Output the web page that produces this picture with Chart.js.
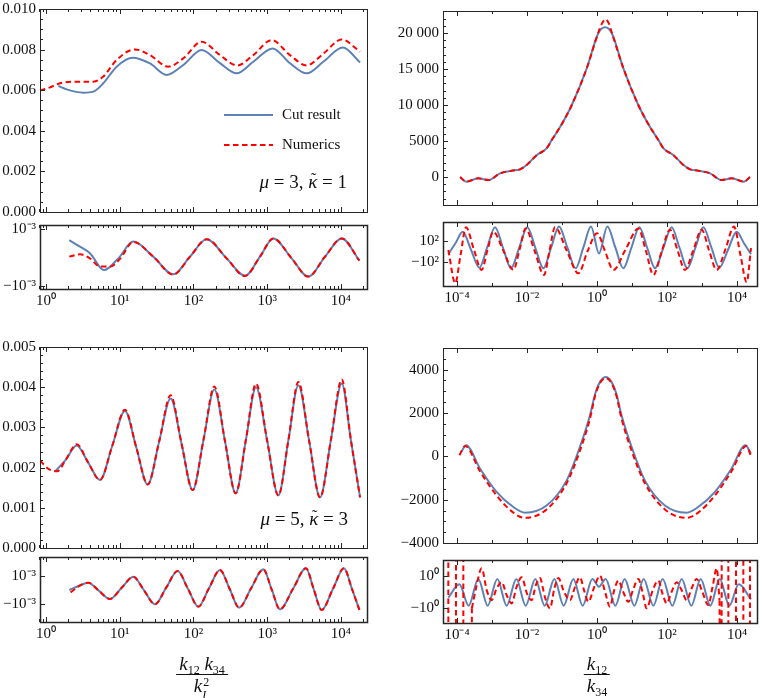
<!DOCTYPE html>
<html>
<head>
<meta charset="utf-8">
<script src="https://cdn.jsdelivr.net/npm/chart.js@4.4.1/dist/chart.umd.min.js"></script>
<style>
  body { margin: 0; background: #fff; width: 763px; height: 698px; position: relative; overflow: hidden; }
  canvas { position: absolute; }
  .frac { position: absolute; transform: translateX(-50%); font-family: 'Liberation Serif', serif; font-size: 19px;
          line-height: 1; color: #111; text-align: center; white-space: nowrap; }
  .frac .num { padding: 0 3px 1px; }
  .frac .bar { border-top: 1.3px solid #111; }
  .frac .den { padding-top: 1px; }
  .frac i { font-style: italic; }
  .frac .sb { font-size: 12px; position: relative; top: 4px; }
  .frac .ss { display: inline-block; position: relative; width: 8px; height: 10px; font-size: 12px; }
  .frac .ss .up { position: absolute; left: 1px; top: -6px; }
  .frac .ss .dn { position: absolute; left: 0; top: 7px; font-style: italic; }
</style>
</head>
<body>
<canvas id="tlMain"></canvas>
<canvas id="tlRes"></canvas>
<canvas id="blMain"></canvas>
<canvas id="blRes"></canvas>
<canvas id="trMain"></canvas>
<canvas id="trRes"></canvas>
<canvas id="brMain"></canvas>
<canvas id="brRes"></canvas>
<div class="frac" style="left:202px; top:654px">
  <div class="num"><i>k</i><span class="sb">12</span> <i>k</i><span class="sb">34</span></div>
  <div class="bar"></div>
  <div class="den"><i>k</i><span class="ss"><span class="up">2</span><span class="dn">I</span></span></div>
</div>
<div class="frac" style="left:597px; top:654px">
  <div class="num"><i>k</i><span class="sb">12</span></div>
  <div class="bar"></div>
  <div class="den"><i>k</i><span class="sb">34</span></div>
</div>
<script>
// ---- x axes: tick positions and labels ----
const leftTickK = [1, 10, 100, 1000, 10000];
const leftTickLabels = ['10⁰', '10¹', '10²', '10³', '10⁴'];
const rightTickK = [1e-4, 1e-2, 1, 1e2, 1e4];
const rightTickLabels = ['10⁻⁴', '10⁻²', '10⁰', '10²', '10⁴'];

// ---- y axes: tick values and labels ----
const mu3Ticks = [0, 0.002, 0.004, 0.006, 0.008, 0.010];
const mu3TickLabels = ['0.000', '0.002', '0.004', '0.006', '0.008', '0.010'];
const mu5Ticks = [0, 0.001, 0.002, 0.003, 0.004, 0.005];
const mu5TickLabels = ['0.000', '0.001', '0.002', '0.003', '0.004', '0.005'];
const ratio3Ticks = [0, 5000, 10000, 15000, 20000];
const ratio3TickLabels = ['0', '5000', '10 000', '15 000', '20 000'];
const ratio5Ticks = [-4000, -2000, 0, 2000, 4000];
const ratio5TickLabels = ['−4000', '−2000', '0', '2000', '4000'];
// residual panels use a signed log axis; the values below are in units of the labelled tick
const resTicks = [-1, 1];
const mu3ResLabels = ['−10⁻³', '10⁻³'];
const mu5ResLabels = ['−10⁻³', '10⁻³'];
const ratio3ResLabels = ['−10²', '10²'];
const ratio5ResLabels = ['−10⁰', '10⁰'];

// ---- top-left: mu = 3, vs k12 k34 / kI^2 (x given as log10) ----
const mu3CutLogK = [0.167, 0.280, 0.506, 0.642, 0.777, 0.958, 1.175, 1.410, 1.636, 1.862, 2.111, 2.359, 2.585, 2.811, 3.073, 3.308, 3.535, 3.761, 4.024, 4.259];
const mu3CutVal = [0.00621, 0.00604, 0.00588, 0.00593, 0.00634, 0.00716, 0.00760, 0.00732, 0.00675, 0.00724, 0.00798, 0.00733, 0.00683, 0.00740, 0.00806, 0.00733, 0.00683, 0.00740, 0.00810, 0.00737];
const mu3NumLogK = [-0.081, 0.054, 0.190, 0.371, 0.642, 0.777, 0.958, 1.207, 1.410, 1.658, 1.862, 2.111, 2.359, 2.594, 2.811, 3.060, 3.308, 3.535, 3.761, 4.010, 4.259];
const mu3NumVal = [0.00598, 0.00614, 0.00634, 0.00642, 0.00642, 0.00667, 0.00749, 0.00801, 0.00773, 0.00716, 0.00757, 0.00839, 0.00773, 0.00722, 0.00773, 0.00847, 0.00773, 0.00722, 0.00780, 0.00850, 0.00790];

const mu3CutResLogK = [0.316, 0.461, 0.596, 0.786, 0.981, 1.184, 1.455, 1.726, 1.953, 2.178, 2.450, 2.698, 2.902, 3.082, 3.331, 3.557, 3.784, 4.010, 4.250];
const mu3CutResVal = [0.61, 0.38, 0.15, -0.44, -0.03, 0.56, 0.03, -0.59, 0.03, 0.64, -0.03, -0.64, 0.03, 0.67, -0.03, -0.67, 0.03, 0.67, -0.11];
const mu3NumResLogK = [0.316, 0.461, 0.596, 0.732, 0.868, 1.003, 1.184, 1.455, 1.726, 1.953, 2.178, 2.450, 2.698, 2.902, 3.082, 3.331, 3.557, 3.784, 4.010, 4.250];
const mu3NumResVal = [0.03, 0.11, -0.03, -0.32, -0.32, -0.05, 0.55, 0.03, -0.60, 0.03, 0.64, -0.03, -0.65, 0.03, 0.67, -0.03, -0.67, 0.03, 0.67, -0.11];

// ---- bottom-left: mu = 5 ----
const mu5CutLogK = [0.122, 0.27, 0.416, 0.574, 0.732, 0.90, 1.071, 1.225, 1.379, 1.535, 1.690, 1.84, 1.989, 2.136, 2.283, 2.428, 2.572, 2.71, 2.848, 3.0, 3.151, 3.287, 3.422, 3.569, 3.716, 3.863, 4.010, 4.135, 4.259];
const mu5CutVal = [0.00190, 0.00220, 0.00255, 0.00212, 0.00169, 0.00255, 0.00341, 0.00250, 0.00158, 0.00265, 0.00372, 0.00258, 0.00144, 0.00269, 0.00394, 0.00265, 0.00136, 0.00268, 0.00400, 0.00266, 0.00131, 0.00268, 0.00405, 0.00266, 0.00126, 0.00268, 0.00409, 0.00268, 0.00126];
const mu5NumLogK = [-0.081, 0.039, 0.152, 0.27, 0.416, 0.574, 0.732, 0.90, 1.071, 1.225, 1.379, 1.535, 1.690, 1.84, 1.989, 2.136, 2.283, 2.428, 2.572, 2.71, 2.848, 3.0, 3.151, 3.287, 3.422, 3.569, 3.716, 3.863, 4.010, 4.135, 4.259];
const mu5NumVal = [0.002175, 0.00196, 0.00191, 0.00220, 0.00258, 0.00212, 0.00169, 0.00255, 0.00344, 0.00250, 0.00158, 0.00265, 0.00380, 0.00258, 0.00144, 0.00269, 0.00402, 0.00265, 0.00136, 0.00268, 0.00409, 0.00266, 0.00131, 0.00268, 0.00413, 0.00266, 0.00126, 0.00268, 0.00419, 0.00268, 0.00126];

const mu5CutResLogK = [0.316, 0.445, 0.573, 0.72, 0.868, 1.026, 1.184, 1.33, 1.478, 1.63, 1.785, 1.925, 2.066, 2.21, 2.359, 2.49, 2.62, 2.78, 2.947, 3.06, 3.172, 3.35, 3.526, 3.63, 3.738, 3.89, 4.04, 4.15, 4.25];
const mu5CutResVal = [0.01, 0.30, 0.53, -0.05, -0.62, 0.17, 0.95, -0.02, -0.99, 0.18, 1.35, 0.10, -1.16, 0.13, 1.42, 0.10, -1.23, 0.12, 1.47, 0.06, -1.35, 0.10, 1.54, 0.08, -1.39, 0.08, 1.54, 0.08, -1.39];
const mu5NumResLogK = [0.334, 0.445, 0.573, 0.72, 0.868, 1.026, 1.184, 1.33, 1.478, 1.63, 1.785, 1.925, 2.066, 2.21, 2.359, 2.49, 2.62, 2.78, 2.947, 3.06, 3.172, 3.35, 3.526, 3.63, 3.738, 3.89, 4.04, 4.15, 4.25];
const mu5NumResVal = [-0.15, 0.28, 0.53, -0.05, -0.62, 0.17, 0.95, -0.02, -0.99, 0.18, 1.35, 0.10, -1.16, 0.13, 1.42, 0.10, -1.23, 0.12, 1.47, 0.06, -1.35, 0.10, 1.54, 0.08, -1.39, 0.08, 1.54, 0.08, -1.39];

// ---- top-right: vs k12 / k34 ----
const ratio3CutLogK = [-3.91, -3.74, -3.39, -3.10, -2.77, -2.44, -2.20, -2.01, -1.72, -1.44, -1.31, -1.00, -0.72, -0.30, 0.04, 0.23, 0.42, 0.76, 1.18, 1.46, 1.77, 1.90, 2.18, 2.47, 2.66, 2.90, 3.23, 3.56, 3.85, 4.20, 4.37];
const ratio3CutVal = [0, -650, -185, -420, 510, 880, 1065, 1670, 3050, 3980, 5000, 7400, 10000, 15000, 20000, 20800, 20000, 15000, 10000, 7400, 5000, 3980, 3050, 1670, 1065, 880, 510, -420, -185, -650, 0];
const ratio3NumLogK = [-3.91, -3.74, -3.39, -3.10, -2.77, -2.44, -2.20, -2.01, -1.72, -1.44, -1.31, -1.00, -0.72, -0.30, 0.04, 0.14, 0.24, 0.34, 0.42, 0.76, 1.18, 1.46, 1.77, 1.90, 2.18, 2.47, 2.66, 2.90, 3.23, 3.56, 3.85, 4.20, 4.37];
const ratio3NumVal = [0, -650, -185, -420, 510, 880, 1065, 1670, 3050, 3980, 5000, 7400, 10000, 15000, 20100, 21300, 21900, 21300, 20100, 15000, 10000, 7400, 5000, 3980, 3050, 1670, 1065, 880, 510, -420, -185, -650, 0];

const ratio3CutResLogK = [-4.248, -4.04, -3.838, -3.60, -3.362, -3.138, -2.914, -2.686, -2.457, -2.224, -1.990, -1.762, -1.533, -1.31, -1.086, -0.848, -0.610, -0.39, -0.171, 0.057, 0.295, 0.524, 0.752, 0.981, 1.210, 1.434, 1.657, 1.895, 2.133, 2.357, 2.581, 2.81, 3.038, 3.267, 3.495, 3.743, 3.990, 4.195, 4.400];
const ratio3CutResVal = [-0.29, 0.8, 1.9, 0.15, -1.59, 0.37, 2.33, 0.34, -1.65, 0.34, 2.33, 0.34, -1.65, 0.37, 2.4, 0.37, -1.65, 0.37, 2.4, -0.21, 2.4, 0.37, -1.65, 0.34, 2.33, 0.34, -1.65, 0.34, 2.33, 0.34, -1.65, 0.34, 2.33, 0.37, -1.59, 0.15, 1.9, 0.8, -0.29];
const ratio3NumResLogK = [-4.248, -4.05, -3.90, -3.743, -3.52, -3.295, -3.13, -2.962, -2.68, -2.39, -2.21, -2.038, -1.78, -1.514, -1.36, -1.2, -0.87, -0.533, -0.27, 0.0, 0.23, 0.467, 0.82, 1.181, 1.40, 1.610, 1.85, 2.086, 2.30, 2.514, 2.75, 2.99, 3.2, 3.419, 3.67, 3.914, 4.10, 4.276, 4.40];
const ratio3NumResVal = [0.13, -3.1, -0.4, 2.33, 0.2, -1.81, 0.1, 1.9, 0.1, -1.81, 0.2, 2.2, 0.0, -2.3, 0.0, 2.33, 0.1, -2.14, 0.0, 1.76, 0.0, -1.81, 0.2, 2.2, 0.0, -2.3, 0.0, 2.1, 0.1, -1.81, 0.1, 2.1, 0.1, -1.81, 0.2, 2.4, -0.4, -3.0, 0.3];

// ---- bottom-right ----
const ratio5CutLogK = [-3.88, -3.74, -3.34, -2.87, -2.39, -2.06, -1.44, -0.87, -0.49, -0.20, -0.05, 0.10, 0.25, 0.40, 0.55, 0.70, 0.99, 1.37, 1.94, 2.56, 2.89, 3.37, 3.84, 4.24, 4.40];
const ratio5CutVal = [200, 512, -574, -1640, -2340, -2600, -2270, -1120, 430, 1900, 2900, 3470, 3660, 3470, 2900, 1900, 430, -1120, -2270, -2600, -2340, -1640, -574, 512, 124];
const ratio5NumLogK = [-3.93, -3.77, -3.34, -2.87, -2.39, -2.06, -1.44, -0.87, -0.49, -0.20, -0.05, 0.10, 0.25, 0.40, 0.55, 0.70, 0.99, 1.37, 1.94, 2.56, 2.89, 3.37, 3.84, 4.27, 4.39];
const ratio5NumVal = [50, 480, -700, -1800, -2600, -2840, -2450, -1250, 250, 1750, 2820, 3420, 3610, 3420, 2820, 1750, 250, -1250, -2450, -2840, -2600, -1800, -700, 480, 50];

const ratio5CutResLogK = [-4.248, -3.933, -3.667, -3.390, -3.124, -2.848, -2.581, -2.305, -2.038, -1.762, -1.495, -1.219, -0.952, -0.676, -0.410, -0.133, 0.057, 0.248, 0.524, 0.790, 1.067, 1.333, 1.610, 1.876, 2.152, 2.419, 2.695, 2.962, 3.238, 3.505, 3.781, 4.048, 4.400];
const ratio5CutResVal = [-0.35, 0.47, -0.84, 0.8, -0.84, 0.8, -0.84, 0.8, -0.84, 0.8, -0.84, 0.8, -0.84, 0.8, -0.84, 0.8, 0.32, 0.8, -0.84, 0.8, -0.84, 0.8, -0.84, 0.8, -0.84, 0.8, -0.84, 0.8, -0.84, 0.8, -0.84, 0.47, -0.45];
// numerics blow up at both ends (values far outside the frame)
const ratio5NumResLeftLogK = [-4.253, -4.243, -4.034, -4.024, -3.824, -3.814, -3.585, -3.575];
const ratio5NumResLeftVal = [20, -20, -20, 20, 20, -20, -20, -1.0];
const ratio5NumResMidLogK = [-3.575, -3.46, -3.295, -3.15, -3.010, -2.87, -2.724, -2.58, -2.438, -2.30, -2.152, -2.0, -1.867, -1.75, -1.629, -1.49, -1.343, -1.22, -1.105, -0.94, -0.771, -0.63, -0.486, -0.37, -0.248, -0.08, 0.086, 0.23, 0.371, 0.49, 0.610, 0.75, 0.895, 1.04, 1.181, 1.30, 1.419, 1.59, 1.752, 1.87, 1.990, 2.13, 2.276, 2.42, 2.562, 2.70, 2.848, 3.01, 3.181, 3.30, 3.419, 3.50];
const ratio5NumResMidVal = [-1.0, 0.2, 1.45, 0.1, -0.5, 0.2, 0.6, -0.2, -0.7, 0.3, 0.9, -0.1, -0.5, 0.4, 0.85, -0.3, -1.0, 0.2, 0.85, 0.0, -0.5, 0.3, 0.9, 0.1, -0.6, 0.3, 1.0, 0.0, -0.9, 0.1, 0.7, 0.0, -0.6, 0.2, 0.8, 0.0, -1.0, 0.1, 0.7, -0.1, -0.7, 0.0, 0.6, 0.1, -0.5, 0.2, 0.8, 0.0, -0.8, 0.3, 1.45, -0.5];
const ratio5NumResRightLogK = [3.50, 3.557, 3.567, 3.747, 3.757, 3.966, 3.976, 4.176, 4.186, 4.366, 4.376];
const ratio5NumResRightVal = [-0.5, -20, 20, 20, -20, -20, 20, 20, -20, -20, 20];

// ---------------------------------------------------------------
Chart.defaults.font.family = "'Liberation Serif', 'Times New Roman', serif";
Chart.defaults.font.size = 15;
Chart.defaults.color = '#111';

const BLUE = '#5e81b5';
const RED = '#ff0000';

function pts(logK, val) {
    return logK.map((e, i) => ({ x: Math.pow(10, e), y: val[i] }));
}
function cutSet(logK, val) {
    return { data: pts(logK, val), borderColor: BLUE, borderWidth: 2, order: 2, cubicInterpolationMode: 'monotone' };
}
function numSet(logK, val, straight) {
    return { data: pts(logK, val), borderColor: RED, borderWidth: 2, borderDash: [5.5, 3.5], order: 1,
             cubicInterpolationMode: straight ? 'default' : 'monotone', tension: 0 };
}

function decadeMinors(lo, hi) {
    const out = [];
    for (let n = lo; n <= hi; n++) {
        for (let m = 2; m <= 9; m++) out.push(m * Math.pow(10, n));
    }
    return out;
}
function steps(a, b, s) {
    const out = [];
    for (let v = a; v <= b + s / 2; v += s) out.push(v);
    return out;
}

// inward frame ticks and the frame box
const framePlugin = {
    id: 'frame',
    afterDatasetsDraw(chart, args, o) {
        const { ctx, chartArea: a, scales: { x, y } } = chart;
        ctx.save();
        ctx.strokeStyle = '#262626';
        ctx.lineWidth = 1;
        const line = (x0, y0, x1, y1) => { ctx.beginPath(); ctx.moveTo(x0, y0); ctx.lineTo(x1, y1); ctx.stroke(); };
        const inY = p => p >= a.top - 0.5 && p <= a.bottom + 0.5;
        const inX = p => p >= a.left - 0.5 && p <= a.right + 0.5;
        (o.yMajor || []).forEach(v => { const p = Math.round(y.getPixelForValue(v)) + 0.5; if (inY(p)) line(a.left, p, a.left + 5, p); });
        (o.yMinor || []).forEach(v => { const p = Math.round(y.getPixelForValue(v)) + 0.5; if (inY(p)) line(a.left, p, a.left + 3, p); });
        (o.xMajor || []).forEach(v => {
            const p = Math.round(x.getPixelForValue(v)) + 0.5;
            if (inX(p)) { line(p, a.bottom, p, a.bottom - 5); line(p, a.top, p, a.top + 5); }
        });
        (o.xMinor || []).forEach(v => {
            const p = Math.round(x.getPixelForValue(v)) + 0.5;
            if (inX(p)) { line(p, a.bottom, p, a.bottom - 3); line(p, a.top, p, a.top + 3); }
        });
        ctx.lineWidth = o.frameWidth || 1;
        ctx.strokeRect(a.left + 0.5, a.top + 0.5, a.right - a.left, a.bottom - a.top);
        ctx.restore();
    }
};

// parameter label like "μ = 3, κ̃ = 1", right aligned at page x, baseline at page y
function paramLabel(mu, kappa, right, base) {
    return {
        id: 'param',
        afterDraw(chart) {
            const ctx = chart.ctx;
            const ox = parseFloat(chart.canvas.style.left), oy = parseFloat(chart.canvas.style.top);
            const parts = [['μ', true], [' = ' + mu + ', ', false], ['κ', true], [' = ' + kappa, false]];
            const fontOf = it => (it ? 'italic ' : '') + "19px 'Liberation Serif', serif";
            ctx.save();
            let w = 0;
            parts.forEach(p => { ctx.font = fontOf(p[1]); w += ctx.measureText(p[0]).width; });
            let xx = right - ox - w;
            const yy = base - oy;
            ctx.fillStyle = '#111';
            ctx.textBaseline = 'alphabetic';
            parts.forEach(p => {
                ctx.font = fontOf(p[1]);
                const pw = ctx.measureText(p[0]).width;
                ctx.fillText(p[0], xx, yy);
                if (p[0] === 'κ') {
                    // tilde accent over kappa
                    ctx.font = "16px 'Liberation Serif', serif";
                    ctx.textAlign = 'center';
                    ctx.fillText('˜', xx + pw / 2 + 1, yy - 4);
                    ctx.textAlign = 'left';
                }
                xx += pw;
            });
            ctx.restore();
        }
    };
}

const legendPlugin = {
    id: 'legendBox',
    afterDraw(chart) {
        const ctx = chart.ctx;
        const ox = parseFloat(chart.canvas.style.left), oy = parseFloat(chart.canvas.style.top);
        ctx.save();
        ctx.lineWidth = 2;
        ctx.strokeStyle = BLUE;
        ctx.beginPath(); ctx.moveTo(224 - ox, 115 - oy); ctx.lineTo(273 - ox, 115 - oy); ctx.stroke();
        ctx.strokeStyle = RED;
        ctx.setLineDash([5.5, 3.5]);
        ctx.beginPath(); ctx.moveTo(224 - ox, 145 - oy); ctx.lineTo(273 - ox, 145 - oy); ctx.stroke();
        ctx.setLineDash([]);
        ctx.fillStyle = '#111';
        ctx.font = "15px 'Liberation Serif', serif";
        ctx.textBaseline = 'middle';
        ctx.fillText('Cut result', 282 - ox, 115 - oy);
        ctx.fillText('Numerics', 282 - ox, 145 - oy);
        ctx.restore();
    }
};

const leftRange = [Math.pow(10, -0.081), Math.pow(10, 4.353)];
const rightRange = [Math.pow(10, -4.4), Math.pow(10, 4.571)];
const leftMinorK = decadeMinors(-1, 4);
const rightDecades = steps(-4, 4, 1).map(n => Math.pow(10, n));

function panel(id, frame, o) {
    const padT = 9, padR = 5, padB = 9;
    const [l, t, r, b] = frame;
    const cv = document.getElementById(id);
    const w = r - l + o.yW + padR;
    const h = b - t + padT + o.xH + padB;
    cv.width = w; cv.height = h;
    cv.style.width = w + 'px'; cv.style.height = h + 'px';
    cv.style.left = (l - o.yW) + 'px'; cv.style.top = (t - padT) + 'px';
    return new Chart(cv, {
        type: 'line',
        data: { datasets: o.datasets },
        options: {
            responsive: false,
            maintainAspectRatio: false,
            animation: false,
            layout: { padding: { top: padT, right: padR, bottom: padB, left: 0 } },
            elements: { point: { radius: 0 } },
            plugins: { legend: { display: false }, tooltip: { enabled: false }, frame: o.frame },
            scales: {
                x: {
                    type: 'logarithmic', min: o.xRange[0], max: o.xRange[1],
                    border: { display: false }, grid: { display: false, drawTicks: false },
                    ticks: { display: o.xH > 0, autoSkip: false, maxRotation: 0, padding: 3,
                             callback: (v, i) => o.xLabels[i] },
                    afterBuildTicks: s => { s.ticks = o.xTicks.map(v => ({ value: v })); },
                    afterFit: s => { s.height = o.xH; s.paddingLeft = 0; s.paddingRight = 0; }
                },
                y: {
                    type: 'linear', min: o.yRange[0], max: o.yRange[1],
                    border: { display: false }, grid: { display: false, drawTicks: false },
                    ticks: { autoSkip: false, padding: 4, callback: (v, i) => o.yLabels[i] },
                    afterBuildTicks: s => { s.ticks = o.yTicks.map(v => ({ value: v })); },
                    afterFit: s => { s.width = o.yW; s.paddingTop = 0; s.paddingBottom = 0; }
                }
            }
        },
        plugins: [framePlugin].concat(o.extra || [])
    });
}

// top-left main
panel('tlMain', [40, 9, 367, 212], {
    yW: 40, xH: 0, xRange: leftRange, xTicks: leftTickK, xLabels: leftTickLabels,
    yRange: [0, 0.010], yTicks: mu3Ticks, yLabels: mu3TickLabels,
    datasets: [cutSet(mu3CutLogK, mu3CutVal), numSet(mu3NumLogK, mu3NumVal)],
    frame: { yMajor: mu3Ticks, yMinor: steps(0, 0.01, 0.0005), xMajor: leftTickK, xMinor: leftMinorK },
    extra: [legendPlugin, paramLabel(3, 1, 347, 188)]
});
panel('tlRes', [40, 225, 367, 289], {
    yW: 40, xH: 24, xRange: leftRange, xTicks: leftTickK, xLabels: leftTickLabels,
    yRange: [-1.105, 1.14], yTicks: resTicks, yLabels: mu3ResLabels,
    datasets: [cutSet(mu3CutResLogK, mu3CutResVal), numSet(mu3NumResLogK, mu3NumResVal)],
    frame: { yMajor: resTicks, xMajor: leftTickK, xMinor: leftMinorK, frameWidth: 1.5 }
});
// bottom-left
panel('blMain', [40, 347, 367, 548], {
    yW: 40, xH: 0, xRange: leftRange, xTicks: leftTickK, xLabels: leftTickLabels,
    yRange: [0, 0.005], yTicks: mu5Ticks, yLabels: mu5TickLabels,
    datasets: [cutSet(mu5CutLogK, mu5CutVal), numSet(mu5NumLogK, mu5NumVal)],
    frame: { yMajor: mu5Ticks, yMinor: steps(0, 0.005, 0.0002), xMajor: leftTickK, xMinor: leftMinorK },
    extra: [paramLabel(5, 3, 348, 525)]
});
panel('blRes', [40, 557, 367, 622], {
    yW: 40, xH: 24, xRange: leftRange, xTicks: leftTickK, xLabels: leftTickLabels,
    yRange: [-2.24, 2.34], yTicks: resTicks, yLabels: mu5ResLabels,
    datasets: [cutSet(mu5CutResLogK, mu5CutResVal), numSet(mu5NumResLogK, mu5NumResVal)],
    frame: { yMajor: resTicks, xMajor: leftTickK, xMinor: leftMinorK, frameWidth: 1.5 }
});
// top-right
panel('trMain', [443, 11, 757, 205], {
    yW: 60, xH: 0, xRange: rightRange, xTicks: rightTickK, xLabels: rightTickLabels,
    yRange: [-3890, 23050], yTicks: ratio3Ticks, yLabels: ratio3TickLabels,
    datasets: [cutSet(ratio3CutLogK, ratio3CutVal), numSet(ratio3NumLogK, ratio3NumVal)],
    frame: { yMajor: ratio3Ticks, yMinor: steps(-3000, 23000, 1000), xMajor: rightTickK, xMinor: rightDecades }
});
panel('trRes', [443, 222, 757, 286], {
    yW: 60, xH: 24, xRange: rightRange, xTicks: rightTickK, xLabels: rightTickLabels,
    yRange: [-3.37, 2.84], yTicks: resTicks, yLabels: ratio3ResLabels,
    datasets: [cutSet(ratio3CutResLogK, ratio3CutResVal), numSet(ratio3NumResLogK, ratio3NumResVal)],
    frame: { yMajor: resTicks, xMajor: rightTickK, xMinor: rightDecades, frameWidth: 1.5 }
});
// bottom-right
panel('brMain', [443, 348, 757, 543], {
    yW: 60, xH: 0, xRange: rightRange, xTicks: rightTickK, xLabels: rightTickLabels,
    yRange: [-4000, 5000], yTicks: ratio5Ticks, yLabels: ratio5TickLabels,
    datasets: [cutSet(ratio5CutLogK, ratio5CutVal), numSet(ratio5NumLogK, ratio5NumVal)],
    frame: { yMajor: ratio5Ticks, yMinor: steps(-4000, 5000, 500), xMajor: rightTickK, xMinor: rightDecades }
});
panel('brRes', [443, 560, 757, 623], {
    yW: 60, xH: 24, xRange: rightRange, xTicks: rightTickK, xLabels: rightTickLabels,
    yRange: [-1.9, 1.96], yTicks: resTicks, yLabels: ratio5ResLabels,
    datasets: [
        cutSet(ratio5CutResLogK, ratio5CutResVal),
        numSet(ratio5NumResLeftLogK, ratio5NumResLeftVal, true),
        numSet(ratio5NumResMidLogK, ratio5NumResMidVal),
        numSet(ratio5NumResRightLogK, ratio5NumResRightVal, true)
    ],
    frame: { yMajor: resTicks, xMajor: rightTickK, xMinor: rightDecades, frameWidth: 1.5 }
});
</script>
</body>
</html>
